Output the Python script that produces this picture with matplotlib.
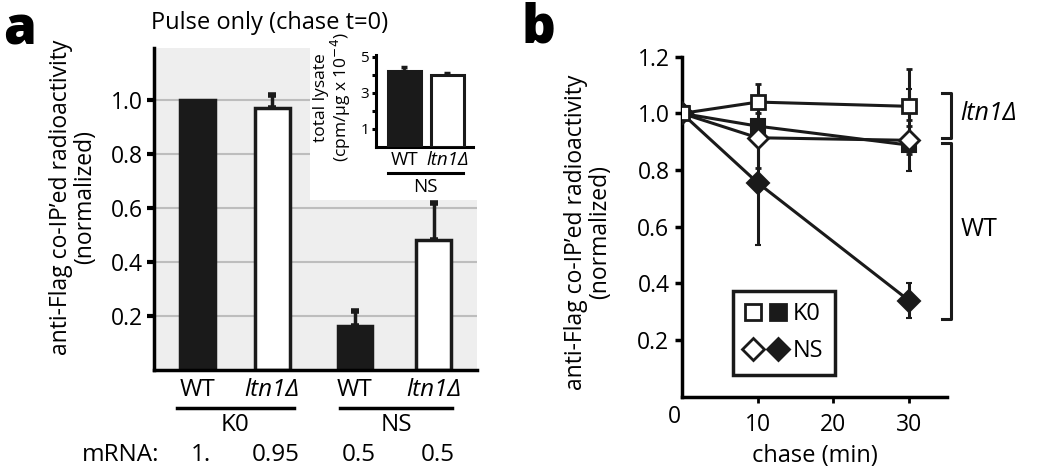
import matplotlib
matplotlib.use("Agg")
import matplotlib.pyplot as plt
from matplotlib.patches import Rectangle
from matplotlib.legend_handler import HandlerTuple
from matplotlib.lines import Line2D
import matplotlib.transforms as mtransforms

plt.rcParams['font.family'] = ['Open Sans', 'DejaVu Sans']

# ---------------- data ----------------
# panel a
a_labels = ["WT", "ltn1Δ", "WT", "ltn1Δ"]
a_groups = ["K0", "NS"]
a_values = [1.0, 0.97, 0.164, 0.481]
a_err = [0.0, 0.05, 0.054, 0.137]
a_mrna = ["1.", "0.95", "0.5", "0.5"]
a_yticks = [0.2, 0.4, 0.6, 0.8, 1.0]

# inset
in_labels = ["WT", "ltn1Δ"]
in_values = [4.24, 4.0]
in_err = [0.17, 0.09]
in_yticks = [1, 2, 3, 4, 5]
in_yticklabels = ["1", "", "3", "", "5"]

# panel b
b_time = [0, 10, 30]
b_k0_ltn1 = [1.0, 1.04, 1.025]
b_k0_ltn1_lo = [0.0, 0.04, 0.05]
b_k0_ltn1_hi = [0.0, 0.065, 0.13]
b_k0_wt = [1.0, 0.955, 0.888]
b_k0_wt_lo = [0.0, 0.05, 0.09]
b_k0_wt_hi = [0.0, 0.105, 0.197]
b_ns_ltn1 = [1.0, 0.914, 0.905]
b_ns_ltn1_lo = [0.0, 0.107, 0.05]
b_ns_ltn1_hi = [0.0, 0.05, 0.05]
b_ns_wt = [1.0, 0.755, 0.339]
b_ns_wt_lo = [0.0, 0.22, 0.062]
b_ns_wt_hi = [0.0, 0.22, 0.062]
b_yticks = [0.2, 0.4, 0.6, 0.8, 1.0, 1.2]
b_xticks = [0, 10, 20, 30]

INK = '#1a1a1a'

# ---------------- figure ----------------
fig = plt.figure(figsize=(10.5, 4.69), dpi=100)

# ===== panel a =====
ax = fig.add_axes([0.1467, 0.2111, 0.3076, 0.6866])
pos = [0.55, 1.5, 2.55, 3.55]
ax.set_xlim(0, 4.1)
ax.set_ylim(0, 1.1926)
ax.set_facecolor('#eeeeee')
for y in a_yticks:
    ax.axhline(y, color='#bdbdbd', lw=1.5, zorder=1)
# white cutout where inset sits
ax.add_patch(Rectangle((1.98, 0.63), 4.1 - 1.98, 1.1926 - 0.63, facecolor='white',
                       edgecolor='none', zorder=1.5))
colors = [INK, 'white', INK, 'white']
ax.bar(pos, a_values, width=0.44, color=colors, edgecolor=INK, linewidth=2.5, zorder=3)
for p, v, e in zip(pos, a_values, a_err):
    if e > 0:
        ax.errorbar([p], [v], yerr=[[0], [e]], fmt='none', ecolor=INK,
                    elinewidth=2.5, capsize=3, capthick=4, zorder=2.5)
for s in ['top', 'right']:
    ax.spines[s].set_visible(False)
for s in ['left', 'bottom']:
    ax.spines[s].set_linewidth(2.5)
    ax.spines[s].set_zorder(5)
ax.set_yticks(a_yticks, [f"{y:.1f}" for y in a_yticks], fontsize=16.5)
ax.tick_params(axis='y', direction='out', length=5, width=3, pad=3)
ax.set_xticks(pos, a_labels, fontsize=17.5)
ax.tick_params(axis='x', length=0, pad=6)
for lab, t in zip(ax.get_xticklabels(), a_labels):
    if t.startswith('ltn1'):
        lab.set_fontstyle('italic')
ax.set_ylabel("anti-Flag co-IP’ed radioactivity\n(normalized)", fontsize=16.5,
              linespacing=1.0)
ax.yaxis.set_label_coords(-0.176, 0.537)
fig.text(270 / 1050, 1 - 23 / 469, "Pulse only (chase t=0)", fontsize=17,
         ha='center', va='center')
tr = ax.get_xaxis_transform()
ax.plot([0.29, 1.78], [-0.118, -0.118], color='black', lw=2.5, transform=tr, clip_on=False)
ax.plot([2.36, 3.78], [-0.118, -0.118], color='black', lw=2.5, transform=tr, clip_on=False)
ax.text(1.03, -0.171, a_groups[0], transform=tr, ha='center', va='center', fontsize=17.5)
ax.text(3.08, -0.171, a_groups[1], transform=tr, ha='center', va='center', fontsize=17.5)
ax.text(-0.43, -0.264, "mRNA:", transform=tr, ha='center', va='center', fontsize=17.5)
for p, m in zip(pos, a_mrna):
    ax.text(p + 0.05, -0.264, m, transform=tr, ha='center', va='center', fontsize=17.5)
fig.text(0.003, 0.99, "a", fontsize=38, fontweight='heavy', va='top', ha='left')

# ===== inset =====
axi = fig.add_axes([0.358, 0.6866, 0.0924, 0.196])
axi.set_xlim(0, 2.7)
axi.set_ylim(0, 5.1)
in_pos = [0.79, 1.99]
axi.bar(in_pos, in_values, width=0.92, color=[INK, 'white'], edgecolor=INK,
        linewidth=2.2, zorder=3)
for p, v, e in zip(in_pos, in_values, in_err):
    axi.errorbar([p], [v], yerr=[[0], [e]], fmt='none', ecolor=INK,
                 elinewidth=2, capsize=2, capthick=2.5, zorder=2.5)
for s in ['top', 'right']:
    axi.spines[s].set_visible(False)
for s in ['left', 'bottom']:
    axi.spines[s].set_linewidth(2.2)
axi.set_yticks(in_yticks, in_yticklabels, fontsize=11)
axi.tick_params(axis='y', direction='out', length=3, width=2.2, pad=2)
axi.set_xticks(in_pos, in_labels, fontsize=13.5)
axi.tick_params(axis='x', length=0, pad=3)
for lab, t in zip(axi.get_xticklabels(), in_labels):
    if t.startswith('ltn1'):
        lab.set_fontstyle('italic')
axi.set_ylabel("total lysate\n(cpm/μg x 10$^{-4}$)", fontsize=12.5, linespacing=1.0)
axi.yaxis.set_label_coords(-0.237, 0.54)
tri = axi.get_xaxis_transform()
axi.plot([0.33, 2.42], [-0.283, -0.283], color='black', lw=2.2, transform=tri, clip_on=False)
axi.text(1.37, -0.435, "NS", transform=tri, ha='center', va='center', fontsize=13.5)

# ===== panel b =====
bx = fig.add_axes([0.6495, 0.1542, 0.2524, 0.7248])
bx.set_xlim(0, 35)
bx.set_ylim(0, 1.2)
ek = dict(ecolor=INK, elinewidth=2.2, capsize=2.5, capthick=3.5)
bx.errorbar(b_time, b_ns_wt, yerr=[b_ns_wt_lo, b_ns_wt_hi], color=INK, lw=2.2,
            marker='D', ms=11, mfc=INK, mec=INK, mew=1.5, zorder=3, **ek)
bx.errorbar(b_time, b_k0_wt, yerr=[b_k0_wt_lo, b_k0_wt_hi], color=INK, lw=2.2,
            marker='s', ms=10, mfc=INK, mec=INK, mew=1.5, zorder=4, **ek)
bx.errorbar(b_time, b_ns_ltn1, yerr=[b_ns_ltn1_lo, b_ns_ltn1_hi], color=INK, lw=2.2,
            marker='D', ms=10, mfc='white', mec=INK, mew=2, zorder=5, **ek)
bx.errorbar(b_time, b_k0_ltn1, yerr=[b_k0_ltn1_lo, b_k0_ltn1_hi], color=INK, lw=2.2,
            marker='s', ms=10, mfc='white', mec=INK, mew=2, zorder=6, **ek)
for s in ['top', 'right']:
    bx.spines[s].set_visible(False)
for s in ['left', 'bottom']:
    bx.spines[s].set_linewidth(2.5)
bx.set_yticks(b_yticks, [f"{y:.1f}" for y in b_yticks], fontsize=16.5)
bx.tick_params(axis='y', direction='out', length=5, width=2.5, pad=4)
bx.set_xticks(b_xticks, [str(x) for x in b_xticks], fontsize=16.5)
bx.tick_params(axis='x', direction='out', length=4, width=2, pad=8)
xl = bx.get_xticklabels()
xl[0].set_transform(xl[0].get_transform() +
                    mtransforms.ScaledTranslation(-8 / 100, 8 / 100, fig.dpi_scale_trans))
bx.xaxis.get_major_ticks()[0].tick1line.set_visible(False)
bx.set_xlabel("chase (min)", fontsize=17, labelpad=5)
bx.set_ylabel("anti-Flag co-IP’ed radioactivity\n(normalized)", fontsize=16.5,
              linespacing=1.0)
bx.yaxis.set_label_coords(-0.264, 0.484)

# legend
h_os = Line2D([], [], ls='none', marker='s', ms=12, mfc='white', mec=INK, mew=2)
h_fs = Line2D([], [], ls='none', marker='s', ms=12, mfc=INK, mec=INK, mew=2)
h_od = Line2D([], [], ls='none', marker='D', ms=11, mfc='white', mec=INK, mew=2)
h_fd = Line2D([], [], ls='none', marker='D', ms=11, mfc=INK, mec=INK, mew=2)
leg = bx.legend([(h_os, h_fs), (h_od, h_fd)], ["K0", "NS"],
                handler_map={tuple: HandlerTuple(ndivide=None, pad=0.4)},
                loc='upper left', bbox_to_anchor=(0.192, 0.312),
                borderaxespad=0, fontsize=17, frameon=True, fancybox=False,
                framealpha=1, handlelength=1.75, handletextpad=0.3, borderpad=0.5,
                labelspacing=0.53)
leg.get_frame().set_edgecolor(INK)
leg.get_frame().set_linewidth(2.5)

# brackets
bx.plot([34.4, 35.5, 35.5, 34.4], [1.072, 1.072, 0.913, 0.913], color=INK, lw=2.2,
        clip_on=False)
bx.plot([34.4, 35.5, 35.5, 34.4], [0.895, 0.895, 0.274, 0.274], color=INK, lw=2.2,
        clip_on=False)
bx.text(36.8, 1.0, "ltn1Δ", fontsize=18, fontstyle='italic', va='center', ha='left')
bx.text(36.8, 0.59, "WT", fontsize=18, va='center', ha='left')
fig.text(0.497, 0.995, "b", fontsize=38, fontweight='heavy', va='top', ha='left')

fig.savefig("out.png", dpi=100)
